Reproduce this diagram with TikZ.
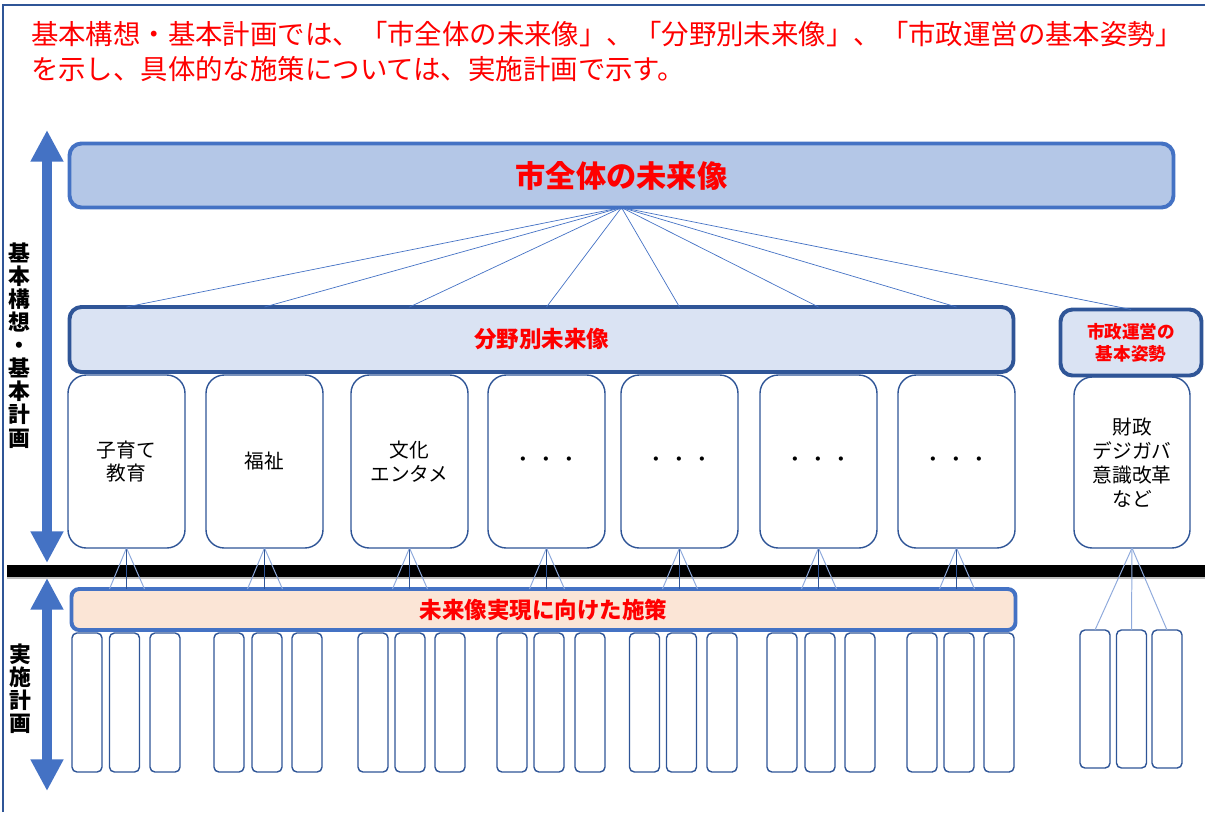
\documentclass[tikz,border=0pt]{standalone}
\usepackage{fontspec}
\setmainfont{Noto Sans CJK JP}
\usetikzlibrary{arrows.meta}

\def\pxu{0.025cm}

\definecolor{accent}{HTML}{4472C4}
\definecolor{darkblue}{HTML}{2F5597}
\definecolor{paleblue}{HTML}{B4C7E7}
\definecolor{lightblue}{HTML}{DAE3F3}
\definecolor{peach}{HTML}{FBE5D6}
\definecolor{fanblue}{HTML}{8FAADC}

\begin{document}
\begin{tikzpicture}[x=\pxu, y=-\pxu, inner sep=0pt, outer sep=0pt]
		\tikzstyle{title}=[anchor=north west, align=left, text=red, font=\fontsize{19.5pt}{24.9pt}\selectfont]
		\tikzstyle{plan label}=[align=center, font=\fontsize{15.5pt}{16.4pt}\selectfont\bfseries]
		\tikzstyle{span arrow}=[draw=accent, line width=7.1pt, {Triangle[width=22pt,length=22.5pt]}-{Triangle[width=22pt,length=22.5pt]}]
		\tikzstyle{vision}=[draw=accent, fill=paleblue, line width=2.8pt, rounded corners=8.5pt, text=red, font=\fontsize{21.5pt}{24pt}\selectfont\bfseries]
		\tikzstyle{band}=[draw=darkblue, fill=lightblue, line width=2.8pt, rounded corners=8.5pt, text=red, align=center, font=\fontsize{16pt}{18pt}\selectfont\bfseries]
		\tikzstyle{field}=[draw=darkblue, fill=white, line width=1pt, rounded corners=13pt, align=center, font=\fontsize{14pt}{17pt}\selectfont]
		\tikzstyle{measures}=[draw=accent, fill=peach, line width=2.8pt, rounded corners=5.5pt, text=red, font=\fontsize{16pt}{18pt}\selectfont\bfseries]
		\tikzstyle{action}=[draw=darkblue, fill=white, line width=1pt, rounded corners=3.5pt, minimum width=30*\pxu, minimum height=139*\pxu]
		\tikzstyle{fan}=[draw=accent, line width=0.5pt]
		\tikzstyle{fan light}=[draw=fanblue, line width=0.7pt]
		\tikzstyle{fan dark}=[draw=darkblue, line width=0.7pt]
		
		\useasboundingbox (0,0) rectangle (1205,812);
		\draw[darkblue, line width=1pt] (3,812) -- (3,5) -- (1205,5);
		
		% Title text
		\node[title] (title) at (31,21) {基本構想・基本計画では、「市全体の未来像」、「分野別未来像」、「市政運営の基本姿勢」\\を示し、具体的な施策については、実施計画で示す。};
		
		% Span arrows on the left
		\coordinate (plan top) at (47,130);
		\coordinate (plan bottom) at (47,563);
		\coordinate (action top) at (47,578);
		\coordinate (action bottom) at (47,791);
		\draw[span arrow] (plan top) -- (plan bottom);
		\draw[span arrow] (action top) -- (action bottom);
		\node[plan label] (plan text) at (19,345.5) {基\\本\\構\\想\\・\\基\\本\\計\\画};
		\node[plan label] (action text) at (20,689) {実\\施\\計\\画};
		
		% Draw the field boxes
		\foreach \name / \x / \txt in {1/126.5/{子育て\\教育}, 2/264.5/{福祉}, 3/409.5/{文化\\エンタメ}, 4/546.5/{・\,・\,・}, 5/679.5/{・\,・\,・}, 6/818.5/{・\,・\,・}, 7/956.5/{・\,・\,・}}
		\node[field, minimum width=117*\pxu, minimum height=173*\pxu] (F-\name) at (\x,461.5) {\txt};
		\node[field, minimum width=116*\pxu, minimum height=171*\pxu] (F-8) at (1132,462.5) {財政\\デジガバ\\意識改革\\など};
		
		% Draw the bands
		\node[band, minimum width=944*\pxu, minimum height=65*\pxu] (bunya) at (541.5,339.5) {分野別未来像};
		\node[band, minimum width=141*\pxu, minimum height=66*\pxu, font=\fontsize{12.5pt}{15.6pt}\selectfont\bfseries] (kisei) at (1131,342.5) {市政運営の\\基本姿勢};
		\node[vision, minimum width=1104*\pxu, minimum height=64*\pxu] (zentai) at (621.5,175.5) {市全体の未来像};
		
		% Connect the vision with every field
		\foreach \dest in {1,...,7}
		\draw[fan] (zentai.south) -- (bunya.north -| F-\dest.north);
		\draw[fan] (zentai.south) -- (kisei.north);
		
		% Divider
		\fill[black] (7,565) rectangle (1205,577);
		\draw[gray!50, line width=0.8pt] (7,578) -- (1205,578);
		
		\node[measures, minimum width=944*\pxu, minimum height=41*\pxu] (sesaku) at (543.5,609.5) {未来像実現に向けた施策};
		
		% Connect every field with the measures band
		\foreach \name in {1,...,7} {
			\draw[fan light] (F-\name.south) -- ([xshift=-17*\pxu]F-\name.south |- sesaku.north);
			\draw[fan dark] (F-\name.south) -- (F-\name.south |- sesaku.north);
			\draw[fan light] (F-\name.south) -- ([xshift=18*\pxu]F-\name.south |- sesaku.north);
		}
		
		% Draw the action boxes
		\foreach \g / \xa / \xb / \xc in {1/87/124.5/165, 2/229/267/307, 3/373/410/450, 4/512/549/590, 5/644.5/681.5/722, 6/782/820/860, 7/922/959/999} {
			\node[action] (S-\g-1) at (\xa,702.5) {};
			\node[action] (S-\g-2) at (\xb,702.5) {};
			\node[action] (S-\g-3) at (\xc,702.5) {};
		}
		\foreach \k / \x in {1/1095, 2/1131.5, 3/1167}
		\node[action, minimum height=138*\pxu] (S-8-\k) at (\x,699) {};
		\foreach \k in {1,2,3}
		\draw[fan light] (F-8.south) -- (S-8-\k.north);
\end{tikzpicture}
\end{document}
